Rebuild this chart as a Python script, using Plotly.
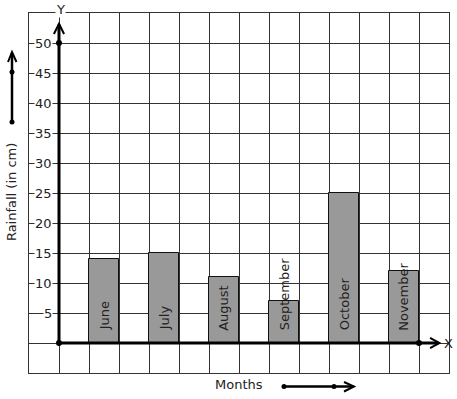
import plotly.graph_objects as go

months = ["June", "July", "August", "September", "October", "November"]
rainfall = [14, 15, 11, 7, 25, 12]
bar_x = [1.5, 3.5, 5.5, 7.5, 9.5, 11.5]
y_ticks = [5, 10, 15, 20, 25, 30, 35, 40, 45, 50]

FONT = "DejaVu Sans"
TXT = "#222222"

fig = go.Figure()
fig.add_trace(go.Bar(
    x=bar_x, y=rainfall, width=1,
    marker=dict(color="#999999", line=dict(color="#111111", width=1)),
    hoverinfo="skip", showlegend=False,
))

ann = []
for m, xv in zip(months, bar_x):
    ann.append(dict(x=xv, y=1.7, xref="x", yref="y", text=m, showarrow=False,
                    textangle=-90, xanchor="center", yanchor="bottom",
                    font=dict(family=FONT, size=13, color=TXT)))
for v in y_ticks:
    ann.append(dict(x=-0.2, y=v, xref="x", yref="y", text=str(v), showarrow=False,
                    xanchor="right", yanchor="middle", bgcolor="white", borderpad=0,
                    font=dict(family=FONT, size=13, color=TXT)))
ann.append(dict(x=0.076, y=1.011, xref="paper", yref="paper", text="Y", showarrow=False,
                xanchor="center", yanchor="middle", bgcolor="white", borderpad=0,
                font=dict(family=FONT, size=13, color=TXT)))
ann.append(dict(x=0.998, y=0.0833, xref="paper", yref="paper", text="X", showarrow=False,
                xanchor="center", yanchor="middle",
                font=dict(family=FONT, size=13, color=TXT)))
ann.append(dict(x=0.5, y=-0.033, xref="paper", yref="paper", text="Months", showarrow=False,
                xanchor="center", yanchor="middle",
                font=dict(family=FONT, size=13, color=TXT)))
ann.append(dict(x=-0.04, y=0.503, xref="paper", yref="paper", text="Rainfall (in cm)",
                showarrow=False, textangle=-90, xanchor="center", yanchor="middle",
                font=dict(family=FONT, size=13, color=TXT)))

shapes = []
K = "#000000"
# y axis
shapes.append(dict(type="line", xref="x", yref="y", x0=0, y0=0, x1=0, y1=53.1,
                   line=dict(color=K, width=3)))
shapes.append(dict(type="path", xref="x", yref="y",
                   path="M -0.17,51.5 L 0,53.2 L 0.17,51.5", line=dict(color=K, width=2)))
# x axis
shapes.append(dict(type="line", xref="x", yref="y", x0=0, y0=0, x1=12.65, y1=0,
                   line=dict(color=K, width=3)))
shapes.append(dict(type="path", xref="x", yref="y",
                   path="M 12.37,0.85 L 12.68,0 L 12.37,-0.85", line=dict(color=K, width=2)))
# dots
for (cx, cy) in [(0, 0), (0, 50), (12, 0)]:
    shapes.append(dict(type="circle", xref="x", yref="y",
                       x0=cx - 0.1, x1=cx + 0.1, y0=cy - 0.5, y1=cy + 0.5,
                       fillcolor=K, line=dict(color=K, width=0)))

# decorative arrows (paper coords)
def px(x):
    return (x - 29) / 420

def py(y):
    return (373 - y) / 360

shapes.append(dict(type="line", xref="paper", yref="paper", x0=px(12), y0=py(122), x1=px(12), y1=py(53),
                   line=dict(color=K, width=2.5)))
shapes.append(dict(type="path", xref="paper", yref="paper",
                   path=f"M {px(8)},{py(62)} L {px(12)},{py(52)} L {px(16.5)},{py(62)}",
                   line=dict(color=K, width=2)))
for yy in (72, 122):
    shapes.append(dict(type="circle", xref="paper", yref="paper",
                       x0=px(9.5), x1=px(14.5), y0=py(yy + 2.5), y1=py(yy - 2.5),
                       fillcolor=K, line=dict(color=K, width=0)))
shapes.append(dict(type="line", xref="paper", yref="paper", x0=px(284), y0=py(386.5), x1=px(353), y1=py(386.5),
                   line=dict(color=K, width=2.5)))
shapes.append(dict(type="path", xref="paper", yref="paper",
                   path=f"M {px(344)},{py(382)} L {px(354)},{py(386.5)} L {px(344)},{py(391.5)}",
                   line=dict(color=K, width=2)))
for xx in (284, 334):
    shapes.append(dict(type="circle", xref="paper", yref="paper",
                       x0=px(xx - 2.5), x1=px(xx + 2.5), y0=py(389), y1=py(384),
                       fillcolor=K, line=dict(color=K, width=0)))

grid = "#333333"
fig.update_layout(
    width=457, height=399,
    margin=dict(l=29, r=8, t=13, b=26),
    paper_bgcolor="white", plot_bgcolor="white",
    showlegend=False,
    bargap=0,
    annotations=ann,
    shapes=shapes,
    xaxis=dict(range=[-1, 13], tick0=-1, dtick=1, showgrid=True, gridcolor=grid, gridwidth=1,
               showticklabels=False, ticks="", zeroline=False,
               showline=True, mirror=True, linecolor=grid, linewidth=1, fixedrange=True),
    yaxis=dict(range=[-5, 55], tick0=-5, dtick=5, showgrid=True, gridcolor=grid, gridwidth=1,
               showticklabels=False, ticks="", zeroline=False,
               showline=True, mirror=True, linecolor=grid, linewidth=1, fixedrange=True),
)

fig.write_html("out.html", config={"displayModeBar": False},
               post_script="document.body.style.margin='0';document.body.style.overflow='hidden';")
